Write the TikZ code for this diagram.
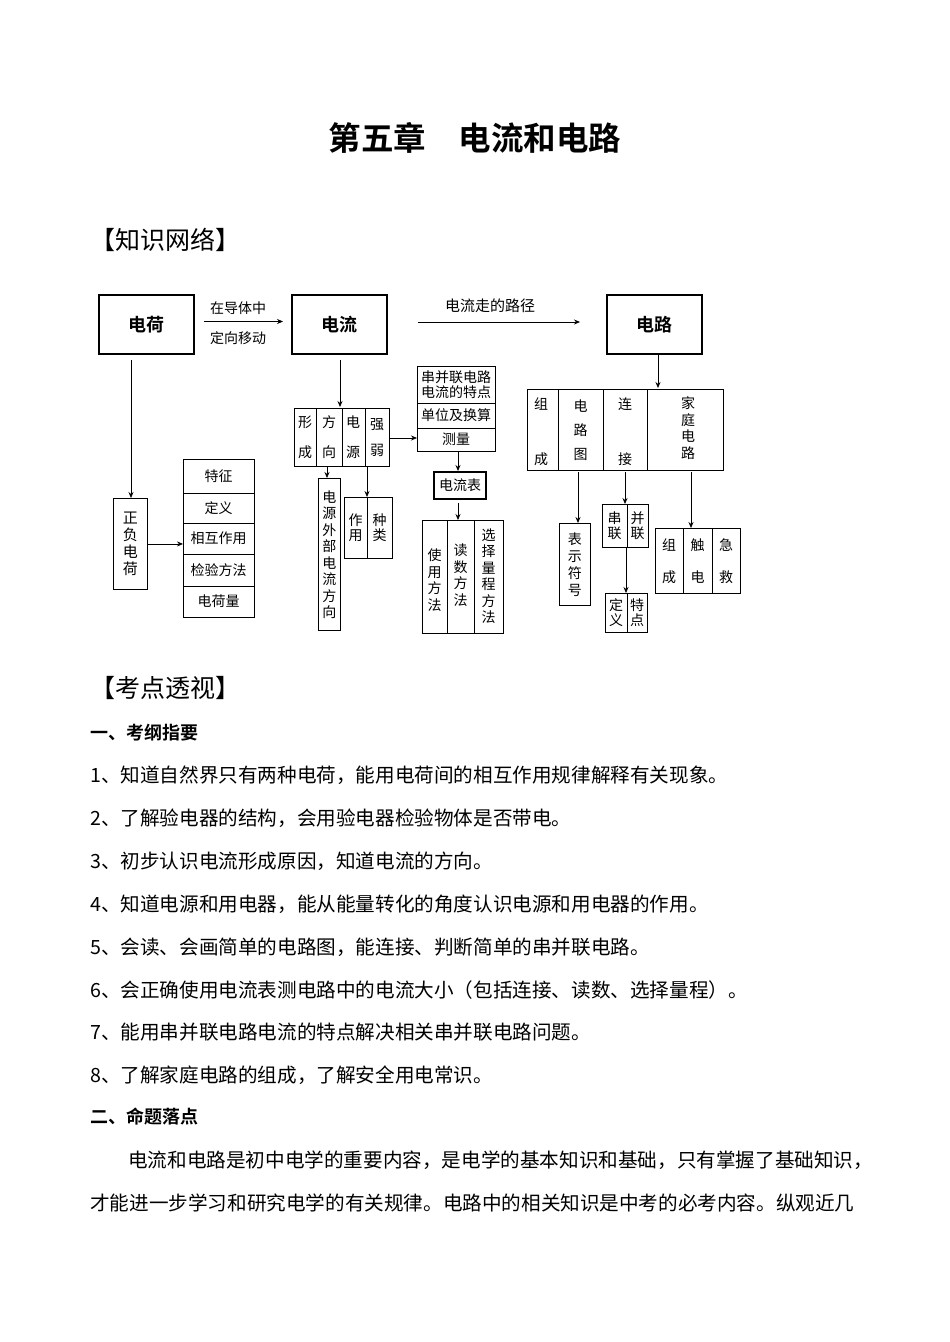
\documentclass[tikz,border=0pt]{standalone}
\usepackage{fontspec}
\setmainfont{Noto Sans CJK SC}
\newfontfamily\cjkb{Noto Sans CJK SC Bold}
\usetikzlibrary{arrows.meta,calc}
\tikzset{
 bx/.style={draw,line width=0.9pt,inner sep=0pt,anchor=north west},
 big/.style={draw,line width=2pt,inner sep=0pt,anchor=north west,font=\fontsize{17}{17}\cjkb},
 arr/.style={-{Stealth[length=6pt,width=5pt]},line width=0.7pt},
 t/.style={font=\fontsize{14}{15}\selectfont,align=center,inner sep=0pt},
 body/.style={anchor=west,font=\fontsize{19.6}{20}\selectfont,inner sep=0pt},
}
\newcommand{\rect}[5]{\node[bx,minimum width=#4pt-#2pt,minimum height=#5pt-#3pt] (#1) at (#2,#3) {};}
\begin{document}
\begin{tikzpicture}[x=1pt,y=-1pt]
\useasboundingbox (0,0) rectangle (950,1342);
% top boxes
\node[big,minimum width=95pt,minimum height=59pt] (dh) at (98,294) {};
\node[font=\fontsize{18}{18}\cjkb] at (dh.center) {电荷};
\node[big,minimum width=95pt,minimum height=59pt] (dl) at (291,294) {};
\node[font=\fontsize{18}{18}\cjkb] at (dl.center) {电流};
\node[big,minimum width=95pt,minimum height=59pt] (dlu) at (606,294) {};
\node[font=\fontsize{18}{18}\cjkb] at (dlu.center) {电路};
\draw[arr] (dh.east)++(9,-3) coordinate (a1) -- ($(dl.west)+(-8,-3)$) coordinate (a2);
\node[t] at (238,308) {在导体中};
\node[t] at (238,338) {定向移动};
\coordinate (b1) at (418,322); \coordinate (b2) at (580,322);
\draw[arr] (b1) -- (b2);
\node[t,font=\fontsize{15}{15}\selectfont] at (490,306) {电流走的路径};
% left
\rect{zf}{113}{498}{147}{589}
\node[t,font=\fontsize{15}{17}\selectfont] at (zf.center) {正\\负\\电\\荷};
\draw[arr] (131,360) -- (zf.north-|131,0);
\rect{lst}{183}{459}{254}{617}
\foreach \y in {493,523,554,586} \draw[line width=0.9pt] (183,\y) -- (254,\y);
\foreach \y/\s in {476/特征,508/定义,538.5/相互作用,570/检验方法,601.5/电荷量} \node[t] at (218.5,\y) {\s};
\draw[arr] (zf.east) -- (lst.west|-zf.east);
% current row
\draw[arr] (340,360) -- (340,407);
\rect{row}{294}{408}{389}{466}
\foreach \x in {316,342,365} \draw[line width=0.9pt] (\x,408) -- (\x,466);
\node[t] at (305,422) {形}; \node[t] at (305,452) {成};
\node[t] at (329,422) {方}; \node[t] at (329,452) {向};
\node[t] at (353,422) {电}; \node[t] at (353,452) {源};
\node[t] at (377,425) {强}; \node[t] at (377,450) {弱};
\rect{wb}{318}{478}{340}{630}
\node[t,font=\fontsize{14}{16.5}\selectfont] at (wb.center) {电\\源\\外\\部\\电\\流\\方\\向};
\draw[arr] (327,466) -- (327,478);
\rect{zy}{344}{497}{392}{558}
\draw[line width=0.9pt] (367,497) -- (367,558);
\node[t] at (355.5,528) {作\\用}; \node[t] at (379.5,528) {种\\类};
\draw[arr] (367,466) -- (367,497);
\rect{cb}{417}{366}{495}{451}
\draw[line width=0.9pt] (417,403) -- (495,403); \draw[line width=0.9pt] (417,428) -- (495,428);
\node[t,font=\fontsize{14}{15}\selectfont] at (456,384.5) {串并联电路\\电流的特点};
\node[t] at (456,415.5) {单位及换算};
\node[t] at (456,439.5) {测量};
\draw[arr] (row.east|-0,438) -- (cb.west|-0,438);
\node[draw,line width=2pt,inner sep=0pt,anchor=north west,minimum width=52pt,minimum height=27pt] (amm) at (433,471) {};
\node[t] at (amm.center) {电流表};
\draw[arr] (cb.south-|458,0) -- (amm.north-|458,0);
\rect{use}{422}{520}{503}{633}
\foreach \x in {447,474} \draw[line width=0.9pt] (\x,520) -- (\x,633);
\node[t,font=\fontsize{14}{16.5}\selectfont] at (434.5,580) {使\\用\\方\\法};
\node[t,font=\fontsize{14}{16.5}\selectfont] at (460.5,575) {读\\数\\方\\法};
\node[t,font=\fontsize{14}{16.5}\selectfont] at (488.5,576) {选\\择\\量\\程\\方\\法};
\draw[arr] (458,503) -- (use.north-|458,0);
% circuit
\draw[arr] (658,355) -- (658,388);
\rect{crow}{527}{389}{723}{470}
\foreach \x in {558,603,647} \draw[line width=0.9pt] (\x,389) -- (\x,470);
\node[t] at (541,404) {组}; \node[t] at (541,459) {成};
\node[t,font=\fontsize{14}{24}\selectfont] at (580.5,430) {电\\路\\图};
\node[t] at (625,404) {连}; \node[t] at (625,459) {接};
\node[t,font=\fontsize{14}{16.5}\selectfont] at (688,428) {家\\庭\\电\\路};
\rect{bs}{559}{523}{590}{605}
\node[t,font=\fontsize{14}{17}\selectfont] at (bs.center) {表\\示\\符\\号};
\draw[arr] (578,472) -- (578,523);
\rect{cl}{602}{504}{648}{547}
\draw[line width=0.9pt] (627,504) -- (627,547);
\node[t] at (614.5,525.5) {串\\联}; \node[t] at (637.5,525.5) {并\\联};
\draw[arr] (625,472) -- (625,504);
\rect{dy}{605}{593}{647}{632}
\draw[line width=0.9pt] (627,593) -- (627,632);
\node[t] at (616,612.5) {定\\义}; \node[t] at (637,612.5) {特\\点};
\draw[arr] (626,547) -- (626,593);
\rect{jt}{655}{528}{740}{593}
\foreach \x in {683,712} \draw[line width=0.9pt] (\x,528) -- (\x,593);
\node[t] at (669,545) {组}; \node[t] at (669,577) {成};
\node[t] at (697.5,545) {触}; \node[t] at (697.5,577) {电};
\node[t] at (726,545) {急}; \node[t] at (726,577) {救};
\draw[arr] (691,472) -- (691,528);
% text
\node[font=\fontsize{32.5}{33}\cjkb,inner sep=0pt] (title) at (475,138) {第五章\hspace{1em}电流和电路};
\node[body,font=\fontsize{25}{26}\selectfont] (h1) at (90,240) {【知识网络】};
\node[body,font=\fontsize{25}{26}\selectfont] (h2) at (90,688) {【考点透视】};
\node[body,font=\fontsize{18}{18}\cjkb] (s1) at (90,733) {一、考纲指要};
\node[body] at (90,775) {1、知道自然界只有两种电荷，能用电荷间的相互作用规律解释有关现象。};
\node[body] at (90,818) {2、了解验电器的结构，会用验电器检验物体是否带电。};
\node[body] at (90,861) {3、初步认识电流形成原因，知道电流的方向。};
\node[body] at (90,904) {4、知道电源和用电器，能从能量转化的角度认识电源和用电器的作用。};
\node[body] at (90,947) {5、会读、会画简单的电路图，能连接、判断简单的串并联电路。};
\node[body] at (90,990) {6、会正确使用电流表测电路中的电流大小（包括连接、读数、选择量程）。};
\node[body] at (90,1032) {7、能用串并联电路电流的特点解决相关串并联电路问题。};
\node[body] at (90,1075) {8、了解家庭电路的组成，了解安全用电常识。};
\node[body,font=\fontsize{18}{18}\cjkb] (s2) at (90,1117) {二、命题落点};
\node[body] at (128,1160) {电流和电路是初中电学的重要内容，是电学的基本知识和基础，只有掌握了基础知识，};
\node[body] at (90,1203) {才能进一步学习和研究电学的有关规律。电路中的相关知识是中考的必考内容。纵观近几};
\end{tikzpicture}
\end{document}
